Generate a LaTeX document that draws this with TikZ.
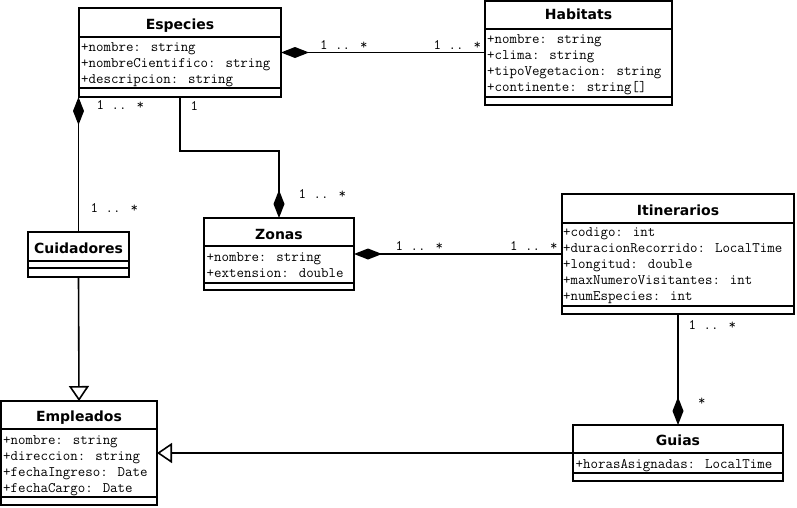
\documentclass[tikz,border=0pt]{standalone}
\usepackage{fontspec}
\setsansfont{DejaVu Sans}
\usetikzlibrary{arrows.meta}

\begin{document}
\begin{tikzpicture}[
    x=1pt,y=-1pt,
    cls/.style={draw,line width=1.6pt,inner sep=0pt,outer sep=0pt,anchor=north west},
    ctitle/.style={font=\sffamily\bfseries\fontsize{14}{16}\selectfont,anchor=base,inner sep=0pt},
    attr/.style={font=\ttfamily\fontsize{14.5}{16}\selectfont,align=left,anchor=base west,inner sep=0pt},
    mult/.style={font=\ttfamily\fontsize{14.5}{16}\selectfont,anchor=base west,inner sep=0pt},
    sep/.style={line width=1.6pt},
    comp/.style={line width=1.6pt,-{Diamond[length=28pt,width=11pt]}},
    gen/.style={line width=1.6pt,-{Triangle[open,length=15pt,width=20pt,fill=white]}}
]
\useasboundingbox (0,0) rectangle (797,507);

% Especies
\node[cls,minimum width=202pt,minimum height=89pt] (especies) at (79,8) {};
\node[ctitle] (especies-t) at (180,29.3) {Especies};
\draw[sep] ([yshift=-29pt]especies.north west) -- ([yshift=-29pt]especies.north east);
\draw[sep] ([yshift=-80pt]especies.north west) -- ([yshift=-80pt]especies.north east);
\node[attr] (especies-a) at (81,83.5) {+nombre: string\\+nombreCientifico: string\\+descripcion: string};

% Habitats
\node[cls,minimum width=187pt,minimum height=104pt] (habitats) at (485,1) {};
\node[ctitle] (habitats-t) at (578.5,19.5) {Habitats};
\draw[sep] ([yshift=-28pt]habitats.north west) -- ([yshift=-28pt]habitats.north east);
\draw[sep] ([yshift=-96pt]habitats.north west) -- ([yshift=-96pt]habitats.north east);
\node[attr] (habitats-a) at (487,91.5) {+nombre: string\\+clima: string\\+tipoVegetacion: string\\+continente: string[]};

% Cuidadores
\node[cls,minimum width=101pt,minimum height=45pt] (cuid) at (28,232) {};
\node[ctitle] (cuid-t) at (78.5,253.3) {Cuidadores};
\draw[sep] ([yshift=-29pt]cuid.north west) -- ([yshift=-29pt]cuid.north east);
\draw[sep] ([yshift=-36pt]cuid.north west) -- ([yshift=-36pt]cuid.north east);

% Zonas
\node[cls,minimum width=150pt,minimum height=72pt] (zonas) at (204,218) {};
\node[ctitle] (zonas-t) at (279,239.3) {Zonas};
\draw[sep] ([yshift=-28pt]zonas.north west) -- ([yshift=-28pt]zonas.north east);
\draw[sep] ([yshift=-65pt]zonas.north west) -- ([yshift=-65pt]zonas.north east);
\node[attr] (zonas-a) at (206.5,277.5) {+nombre: string\\+extension: double};

% Itinerarios
\node[cls,minimum width=232pt,minimum height=120pt] (itin) at (562,194) {};
\node[ctitle] (itin-t) at (678,215) {Itinerarios};
\draw[sep] ([yshift=-29pt]itin.north west) -- ([yshift=-29pt]itin.north east);
\draw[sep] ([yshift=-112pt]itin.north west) -- ([yshift=-112pt]itin.north east);
\node[attr] (itin-a) at (563,300.5) {+codigo: int\\+duracionRecorrido: LocalTime\\+longitud: double\\+maxNumeroVisitantes: int\\+numEspecies: int};

% Empleados
\node[cls,minimum width=156pt,minimum height=104pt] (empl) at (1,401) {};
\node[ctitle] (empl-t) at (79,421.7) {Empleados};
\draw[sep] ([yshift=-28pt]empl.north west) -- ([yshift=-28pt]empl.north east);
\draw[sep] ([yshift=-96pt]empl.north west) -- ([yshift=-96pt]empl.north east);
\node[attr] (empl-a) at (3,492.5) {+nombre: string\\+direccion: string\\+fechaIngreso: Date\\+fechaCargo: Date};

% Guias
\node[cls,minimum width=210pt,minimum height=56pt] (guias) at (573,425) {};
\node[ctitle] (guias-t) at (678,445) {Guias};
\draw[sep] ([yshift=-28pt]guias.north west) -- ([yshift=-28pt]guias.north east);
\draw[sep] ([yshift=-48pt]guias.north west) -- ([yshift=-48pt]guias.north east);
\node[attr] (guias-a) at (575.5,468.5) {+horasAsignadas: LocalTime};

% Associations
\draw[comp] (habitats.west |- especies.east) -- (especies.east);
\draw[comp] (cuid.north) -- (cuid.north |- especies.south);
\draw[comp] (especies.south) -- ++(0,54) -| (zonas.north);
\draw[comp] (itin.west |- zonas.east) -- (zonas.east);
\draw[comp] (itin.south) -- (guias.north);

% Generalizations
\draw[gen] (cuid.south) -- (empl.north);
\draw[gen] (guias.west) -- (guias.west -| empl.east);

% Multiplicities
\node[mult] (m-eh1) at (320,49) {1 .. *};
\node[mult] (m-eh2) at (433.5,49) {1 .. *};
\node[mult] (m-ec1) at (96.5,109) {1 .. *};
\node[mult] (m-ec2) at (90.5,212) {1 .. *};
\node[mult] (m-ez1) at (190.5,110) {1};
\node[mult] (m-ez2) at (298.5,198) {1 .. *};
\node[mult] (m-zi1) at (395.5,250) {1 .. *};
\node[mult] (m-zi2) at (510,250) {1 .. *};
\node[mult] (m-ig1) at (688.5,329) {1 .. *};
\node[mult] (m-ig2) at (698,405.5) {*};

\end{tikzpicture}
\end{document}
